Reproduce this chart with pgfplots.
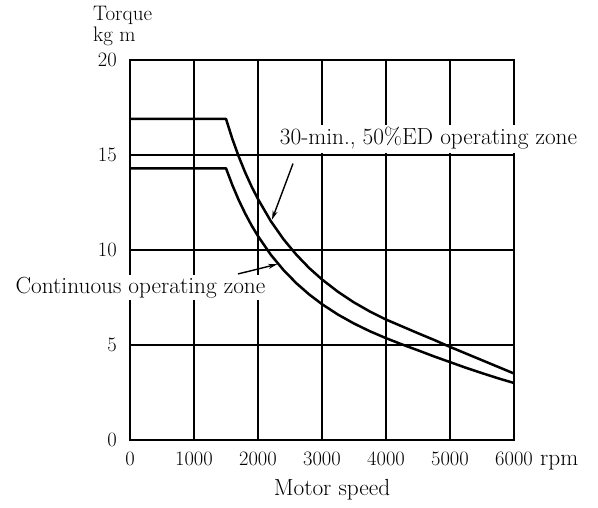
\documentclass[border=0pt]{standalone}
\usepackage{pgfplots}
\pgfplotsset{compat=1.18}
\usetikzlibrary{arrows.meta}
\newcommand{\fs}[1]{\fontsize{#1}{#1}\selectfont}
\begin{document}
\begin{tikzpicture}[x=1pt,y=1pt]
\path[use as bounding box] (-130,-67) rectangle (468,440);
\begin{axis}[at={(0,0)}, anchor=south west, scale only axis,
  width=384pt, height=380pt,
  xmin=0, xmax=6000, ymin=0, ymax=20,
  xtick={0,1000,2000,3000,4000,5000,6000},
  xticklabels={0,1000,2000,3000,4000,5000,6000},
  ytick={0,5,10,15,20},
  yticklabels={0,5,10,15,20},
  grid=major,
  major grid style={black, line width=2pt},
  axis line style={line width=2pt},
  major tick length=0pt,
  xticklabel style={anchor=base, inner sep=0pt, yshift=-25pt, font=\fs{20.5}},
  yticklabel style={anchor=east, inner sep=0pt, xshift=-13pt, font=\fs{20.5}},
]
\addplot[black, line width=2.5pt, line join=round] coordinates {
(0,16.9) (1500,16.9) (1600,15.84) (1700,14.91) (1800,14.08) (1900,13.34) (2000,12.68)
(2200,11.52) (2400,10.56) (2600,9.75) (2800,9.05) (3000,8.45) (3250,7.80) (3500,7.24)
(3750,6.76) (4000,6.34) (4250,5.98) (4500,5.62) (4750,5.27) (5000,4.9) (5250,4.55)
(5500,4.2) (5750,3.85) (6000,3.5)};
\addplot[black, line width=2.5pt, line join=round] coordinates {
(0,14.3) (1500,14.3) (1600,13.41) (1700,12.62) (1800,11.92) (1900,11.29) (2000,10.73)
(2200,9.75) (2400,8.94) (2600,8.25) (2800,7.66) (3000,7.15) (3250,6.60) (3500,6.13)
(3750,5.72) (4000,5.36) (4250,5.03) (4500,4.72) (4750,4.40) (5000,4.1) (5250,3.8)
(5500,3.52) (5750,3.25) (6000,3.0)};
\draw[-{Stealth[length=9pt,width=5pt]}, line width=1.4pt] (axis cs:2547,14.55) -- (axis cs:2219,11.6);
\draw[-{Stealth[length=9pt,width=5pt]}, line width=1.4pt] (axis cs:1688,8.74) -- (axis cs:2300,9.25);
\end{axis}
\node[anchor=base, fill=white, inner sep=3pt, font=\fs{23.3}] at (298.5,295) {30-min., 50\%ED operating zone};
\node[anchor=base, fill=white, inner sep=2pt, font=\fs{23.3}] at (10.5,146.7) {Continuous operating zone};
\node[anchor=base, font=\fs{23.3}] at (202,-55) {Motor speed};
\node[anchor=base west, inner sep=0pt, font=\fs{23.3}] at (410,-25) {rpm};
\node[anchor=base west, inner sep=0pt, font=\fs{21}] at (-37,419) {Torque};
\node[anchor=base west, inner sep=0pt, font=\fs{21}] at (-37,398) {kg m};
\end{tikzpicture}
\end{document}
